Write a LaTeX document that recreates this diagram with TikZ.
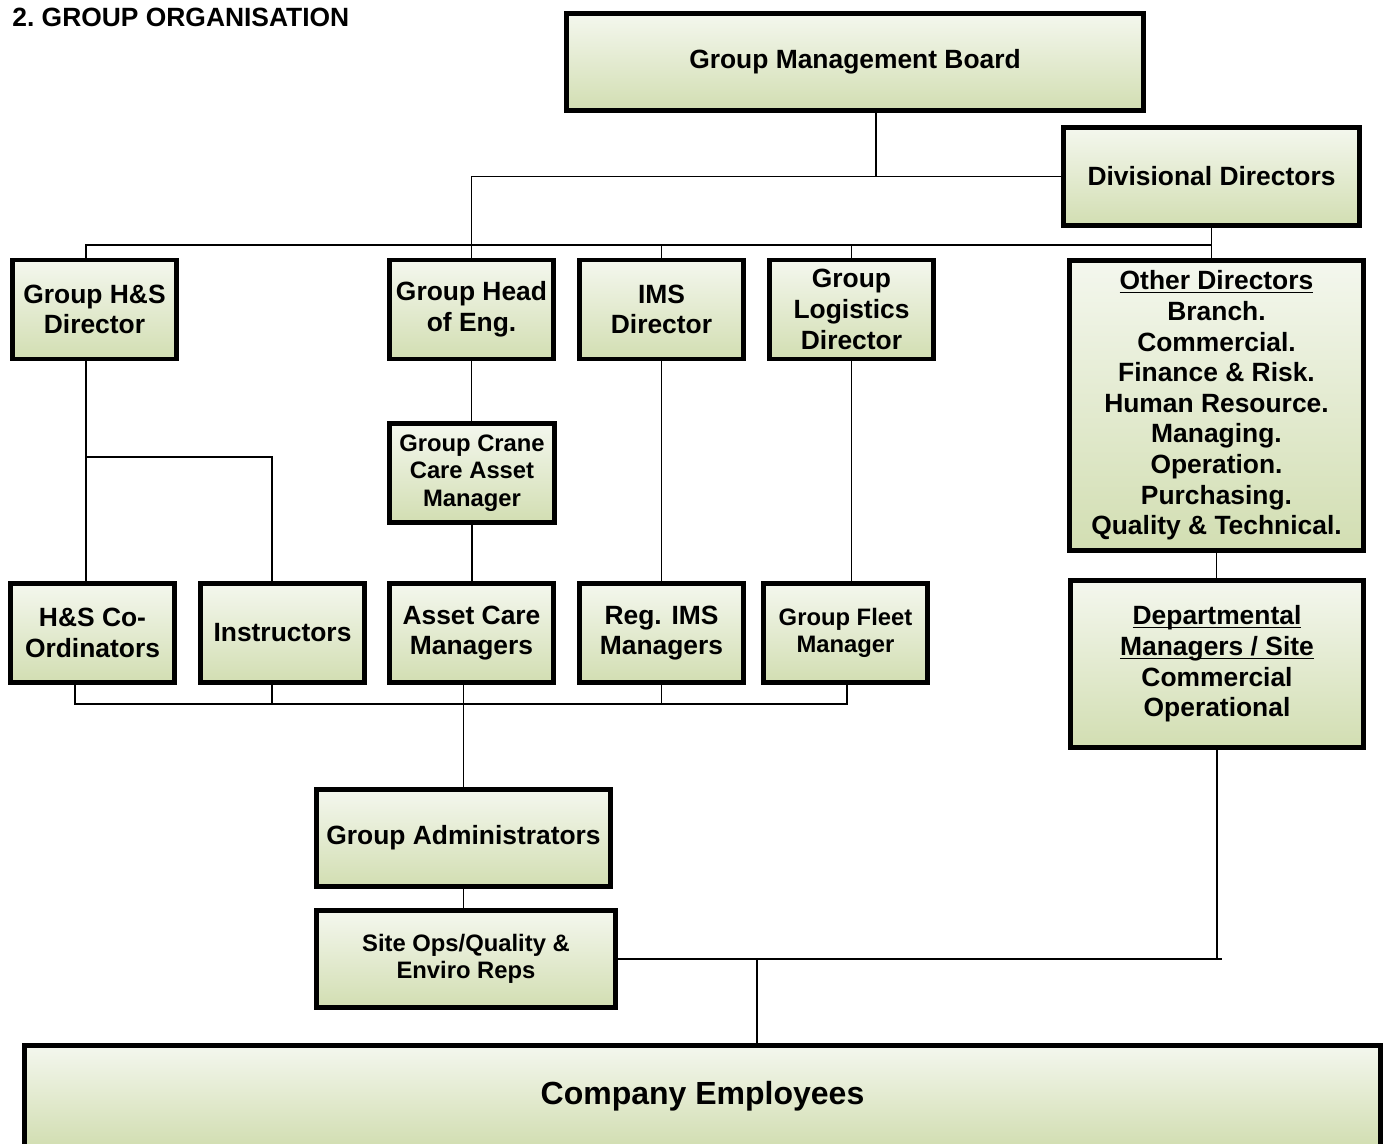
\documentclass[tikz,border=0pt]{standalone}
\usepackage{fontspec}
\setmainfont{Liberation Sans}
\usetikzlibrary{backgrounds}
\definecolor{boxtop}{HTML}{F4F7EE}
\definecolor{boxbottom}{HTML}{D2DEB2}
\newcommand{\ulword}[1]{\underline{\raisebox{0pt}[\height][0pt]{#1}}}

\begin{document}
\begin{tikzpicture}[x=0.5pt,y=-0.5pt]
\tikzset{
box node/.style={rectangle,draw,line width=2.4pt,top color=boxtop,bottom color=boxbottom,align=center,inner sep=0pt,font=\fontsize{13.2}{15.3}\selectfont\bfseries},
small box node/.style={box node,font=\fontsize{11.9}{13.75}\selectfont\bfseries},
unit node/.style={minimum width=82pt,minimum height=49.5pt},
link/.style={line width=0.8pt}
}
\useasboundingbox (0,0) rectangle (1387,1144);

\node(title)[anchor=base west,inner sep=0pt,font=\fontsize{13.2}{15}\selectfont\bfseries] at (12,27) {2.\ GROUP ORGANISATION};

% top level
\node(gmb)[box node,minimum width=288.5pt,minimum height=48.5pt] at (855,62) {Group Management Board};
\node(div)[box node,minimum width=148pt,minimum height=49pt] at (1211.5,176.5) {Divisional Directors};

% directors
\node(hsd)[box node,unit node] at (94.5,309.5) {Group H\&S\\Director};
\node(hoe)[box node,unit node] at (471.5,309.5) {Group Head\\of Eng.};
\node(ims)[box node,unit node] at (661.5,309.5) {IMS\\Director};
\node(log)[box node,unit node] at (851.5,309.5) {Group\\Logistics\\Director};
\node(oth)[box node,minimum width=147pt,minimum height=145pt] at (1216.5,405.5)
    {\ulword{Other Directors}\\Branch.\\Commercial.\\Finance \& Risk.\\Human Resource.\\Managing.\\Operation.\\Purchasing.\\Quality \& Technical.};
\node(crane)[small box node,minimum width=82.5pt,minimum height=49.5pt] at (472,473) {Group Crane\\Care Asset\\Manager};

% managers
\node(hsc)[box node,unit node] at (92.5,633) {H\&S Co-\\Ordinators};
\node(ins)[box node,unit node] at (282.5,633) {Instructors};
\node(acm)[box node,unit node] at (471.5,633) {Asset Care\\Managers};
\node(rim)[box node,unit node] at (661.5,633) {Reg. IMS\\Managers};
\node(gfm)[small box node,unit node] at (845.5,633) {Group Fleet\\Manager};
\node(dep)[box node,minimum width=146.5pt,minimum height=83.5pt] at (1217,664)
    {\ulword{Departmental}\\\ulword{Managers / Site}\\Commercial\\Operational};

% admin and staff
\node(adm)[box node,minimum width=147pt,minimum height=48.5pt] at (463.5,838) {Group Administrators};
\node(site)[small box node,minimum width=149.5pt,minimum height=48.5pt] at (466,959) {Site Ops/Quality \&\\Enviro Reps};
\node(emp)[box node,minimum width=678pt,minimum height=50.25pt,font=\fontsize{16}{18}\selectfont\bfseries] at (702.5,1095.75) {Company Employees};

\begin{scope}[on background layer]
\coordinate (j1) at (876,177);
\coordinate (bus1) at (86,245);
\coordinate (hsj) at (86,457);
\coordinate (insj) at (272,457);
\coordinate (b1) at (75,704);
\coordinate (b2) at (272,704);
\coordinate (b5) at (847,704);
\coordinate (se) at (1222,959);
\coordinate (ej) at (757,959);

\draw[link] (j1 |- gmb.south) -- (j1);
\draw[link] (hoe.north) |- (div.west);
\draw[link] (div.south) -- (div.south |- oth.north);
\draw[link] (hsd.north -| bus1) |- (div.south |- bus1);
\draw[link] (ims.north) -- (ims.north |- bus1);
\draw[link] (log.north) -- (log.north |- bus1);

\draw[link] (hsd.south -| bus1) -- (hsc.north -| bus1);
\draw[link] (hsj) -- (insj) -- (insj |- ins.north);
\draw[link] (hoe.south) -- (hoe.south |- crane.north);
\draw[link] (crane.south) -- (crane.south |- acm.north);
\draw[link] (ims.south) -- (rim.north);
\draw[link] (log.south) -- (log.south |- gfm.north);
\draw[link] (oth.south) -- (oth.south |- dep.north);

\draw[link] (hsc.south -| b1) -- (b1) -- (b5) -- (gfm.south -| b5);
\draw[link] (ins.south -| b2) -- (b2);
\draw[link] (rim.south) -- (rim.south |- b1);
\draw[link] (acm.south -| adm.north) -- (adm.north);
\draw[link] (adm.south) -- (adm.south |- site.north);
\draw[link] (site.east) -- (site.east -| se);
\draw[link] (dep.south) -- (dep.south |- site.east);
\draw[link] (ej) -- (ej |- emp.north);
\end{scope}
\end{tikzpicture}
\end{document}
